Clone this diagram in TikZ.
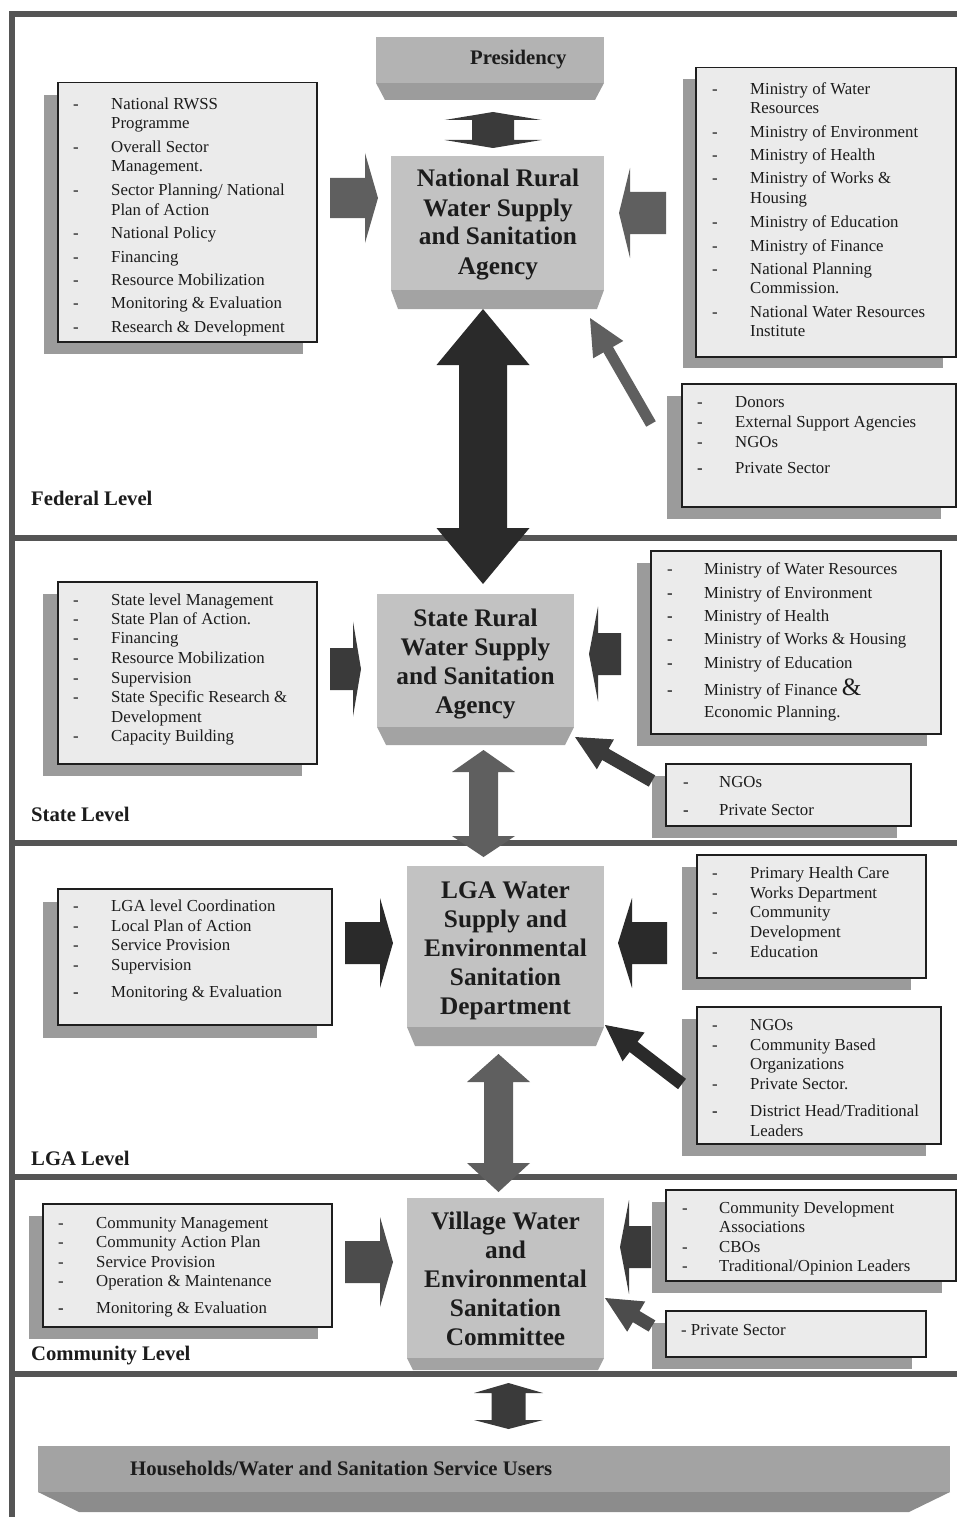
\documentclass[tikz,border=0pt]{standalone}
\usepackage{fontspec}
\setmainfont{Liberation Serif}
\usetikzlibrary{calc}
\definecolor{framec}{HTML}{555555}
\definecolor{face}{HTML}{C2C2C2}
\definecolor{facebot}{HTML}{A3A3A3}
\definecolor{presface}{HTML}{B3B3B3}
\definecolor{presbot}{HTML}{9C9C9C}
\definecolor{hhface}{HTML}{A3A3A3}
\definecolor{hhbot}{HTML}{8C8C8C}
\definecolor{boxfill}{HTML}{EBEBEB}
\definecolor{boxline}{HTML}{1E1E1E}
\definecolor{shadowc}{HTML}{9B9B9B}
\definecolor{txt}{HTML}{1C1C1C}
\definecolor{arrMed}{HTML}{5F5F5F}
\definecolor{arrMid}{HTML}{4C4C4C}
\definecolor{arrDark}{HTML}{3A3A3A}
\definecolor{arrVDark}{HTML}{2A2A2A}

% horizontal block arrow: tail x, head-base x, tip x, centre y, shaft half, head half, colour
\newcommand\hblock[7]{\fill[#7] ({#1},{#4-#5}) -- ({#2},{#4-#5}) -- ({#2},{#4-#6}) -- ({#3},{#4}) -- ({#2},{#4+#6}) -- ({#2},{#4+#5}) -- ({#1},{#4+#5}) -- cycle;}
% vertical double arrow: cx, top tip, top base, bottom base, bottom tip, shaft half, head half, colour
\newcommand\vdouble[8]{\fill[#8] ({#1},{#2}) -- ({#1+#7},{#3}) -- ({#1+#6},{#3}) -- ({#1+#6},{#4}) -- ({#1+#7},{#4}) -- ({#1},{#5}) -- ({#1-#7},{#4}) -- ({#1-#6},{#4}) -- ({#1-#6},{#3}) -- ({#1-#7},{#3}) -- cycle;}
% diagonal arrow: tail coord, tip coord, head length, head half, shaft half, colour
\newcommand\darrow[6]{\coordinate (da-b) at ($(#2)!#3pt!(#1)$);
\fill[#6] (#2) -- ($(da-b)!#4pt!90:(#2)$) -- ($(da-b)!#5pt!90:(#2)$) -- ($(#1)!#5pt!90:(#2)$) -- ($(#1)!#5pt!-90:(#2)$) -- ($(da-b)!#5pt!-90:(#2)$) -- ($(da-b)!#4pt!-90:(#2)$) -- cycle;}
% agency box: name, x0, y0, x1, yb, yt, inset, face, bottom colour
\newcommand\agency[9]{\fill[#9] ({#2},{#5}) -- ({#4},{#5}) -- ({#4-#7},{#6}) -- ({#2+#7},{#6}) -- cycle;
\node[fill=#8, inner sep=0pt, minimum width={(#4-#2)*1pt}, minimum height={(#5-#3)*1pt}, anchor=north west] (#1) at (#2,#3) {};}
% list box: name, x0, y0, x1, y1, shadow dx, shadow dy
\newcommand\lbox[7]{\fill[shadowc] ({#2+#6},{#3+#7}) rectangle ({#4+#6},{#5+#7});
\node[listbox, minimum width={(#4-#2)*1pt}, minimum height={(#5-#3)*1pt}, anchor=north west] (#1) at (#2,#3) {};}
% list lines: prefix, dash x, text x, {baseline/dash/text,...}
\newcommand\items[4]{\foreach \b/\d/\t [count=\i] in {#4} {
 \node[itemtxt, anchor=base west] (#1-\i) at (#3,\b) {\t};
 \ifnum\d=1 \node[itemtxt, anchor=base west] (#1-d\i) at (#2,\b) {-};\fi
 \ifnum\d=2 \node[itemtxt, anchor=base west] (#1-d\i) at (#2,\b) {\textbf{-}};\fi
}}

\begin{document}
\begin{tikzpicture}[x=1pt,y=-1pt,
 itemtxt/.style={inner sep=0pt, font=\fontsize{16.8}{19.5}\selectfont, text=txt},
 lvl/.style={inner sep=0pt, font=\fontsize{20.7}{24}\selectfont\bfseries, text=txt},
 agtxt/.style={inner sep=0pt, font=\fontsize{25.3}{29}\selectfont\bfseries, text=txt},
 listbox/.style={draw=boxline, line width=1.5pt, fill=boxfill, inner sep=0pt},
 sep/.style={draw=framec, line width=6pt}]
\useasboundingbox (0,0) rectangle (957,1517);

% frame and level separators
\draw[sep] (957,14) -- (12,14) -- (12,1517);
\draw[sep] (12,537.5) -- (957,537.5);
\draw[sep] (12,843) -- (957,843);
\draw[sep] (12,1176.5) -- (957,1176.5);
\draw[sep] (12,1373.5) -- (957,1373.5);

% ================= Federal level
\agency{pres}{376}{37}{604}{83}{100}{9}{presface}{presbot}
\node[lvl, anchor=base west] (prest) at (470,65) {Presidency};
\vdouble{493}{112}{120}{140}{148}{21}{48.5}{arrDark}

\agency{nrwssa}{391}{156}{604}{290}{309}{7}{face}{facebot}
\node[agtxt, anchor=base] (nrwssat) at (498,187) {\begin{tabular}[t]{@{}c@{}}National Rural\\Water Supply\\and Sanitation\\Agency\end{tabular}};

\lbox{fedL}{57}{82}{316}{341}{-13}{13}
\items{fedL}{73}{111}{110/1/{National RWSS}, 129/0/{Programme}, 153/1/{Overall Sector}, 172/0/{Management.}, 196/1/{Sector Planning/ National}, 215/0/{Plan of Action}, 238/1/{National Policy}, 262/1/{Financing}, 285/1/{Resource Mobilization}, 308/1/{Monitoring \& Evaluation}, 332/1/{Research \& Development}}

\lbox{fedR}{695}{67}{955}{356}{-12}{12}
\items{fedR}{712}{750}{95/1/{Ministry of Water}, 114/0/{Resources}, 138/1/{Ministry of Environment}, 161/1/{Ministry of Health}, 184/1/{Ministry of Works \&}, 204/0/{Housing}, 227/1/{Ministry of Education}, 251/1/{Ministry of Finance}, 274/1/{National Planning}, 293/0/{Commission.}, 317/1/{National Water Resources}, 336/0/{Institute}}

\lbox{donors}{681}{383}{955}{506}{-14}{13}
\items{donors}{697}{735}{407/1/{Donors}, 427/1/{External Support Agencies}, 447/1/{NGOs}, 473/2/{Private Sector}}

\hblock{330}{365}{378}{198}{20}{45}{arrMed}
\hblock{666}{630}{619}{213}{21}{45}{arrMed}
\coordinate (fedTail) at (651,424);
\coordinate (fedTip) at (590,318);
\darrow{fedTail}{fedTip}{36.5}{17.4}{5.5}{arrMed}

\node[lvl, anchor=base west] (fedlvl) at (31,505) {Federal Level};

% ================= State level
\agency{srwssa}{377}{594}{574}{727}{745}{9}{face}{facebot}
\node[agtxt, anchor=base] (srwssat) at (475.5,626) {\begin{tabular}[t]{@{}c@{}}State Rural\\Water Supply\\and Sanitation\\Agency\end{tabular}};

\lbox{stL}{57}{581}{316}{763}{-14}{13}
\items{stL}{73}{111}{605/1/{State level Management}, 624/1/{State Plan of Action.}, 643/1/{Financing}, 663/1/{Resource Mobilization}, 683/1/{Supervision}, 702/1/{State Specific Research \&}, 722/0/{Development}, 741/1/{Capacity Building}}

\lbox{stR}{650}{550}{940}{733}{-13}{13}
\items{stR}{667}{704}{574/1/{Ministry of Water Resources}, 598/2/{Ministry of Environment}, 621/2/{Ministry of Health}, 644/2/{Ministry of Works \& Housing}, 668/2/{Ministry of Education}, 695/2/{Ministry of Finance {\fontsize{25}{25}\selectfont\&}}, 717/0/{Economic Planning.}}

\lbox{stN}{665}{763}{910}{825}{-13}{13}
\items{stN}{683}{719}{787/1/{NGOs}, 815/2/{Private Sector}}

\hblock{330}{353}{361}{669}{21}{47.5}{arrDark}
\hblock{621}{598}{589}{654}{21}{47.5}{arrDark}
\coordinate (stTail) at (652,781);
\coordinate (stTip) at (575,737);
\darrow{stTail}{stTip}{35}{17.2}{6.5}{arrDark}

\node[lvl, anchor=base west] (stlvl) at (31,821) {State Level};

% ================= LGA level
\agency{lga}{407}{866}{604}{1027}{1046}{8}{face}{facebot}
\node[agtxt, anchor=base] (lgat) at (505.5,898) {\begin{tabular}[t]{@{}c@{}}LGA Water\\Supply and\\Environmental\\Sanitation\\Department\end{tabular}};

\lbox{lgL}{57}{888}{331}{1024}{-14}{14}
\items{lgL}{73}{111}{911/1/{LGA level Coordination}, 931/1/{Local Plan of Action}, 950/1/{Service Provision}, 970/1/{Supervision}, 997/2/{Monitoring \& Evaluation}}

\lbox{lgR1}{696}{854}{925}{977}{-14}{13}
\items{lgR1}{712}{750}{878/1/{Primary Health Care}, 898/1/{Works Department}, 917/1/{Community}, 937/0/{Development}, 957/1/{Education}}

\lbox{lgR2}{696}{1006}{940}{1143}{-14}{13}
\items{lgR2}{712}{750}{1030/1/{NGOs}, 1050/1/{Community Based}, 1069/0/{Organizations}, 1089/1/{Private Sector.}, 1116/2/{District Head/Traditional}, 1136/0/{Leaders}}

\hblock{345}{380}{393}{943}{21}{45}{arrVDark}
\hblock{667}{632}{618}{943}{21}{45}{arrVDark}
\coordinate (lgTail) at (682,1084);
\coordinate (lgTip) at (605,1025);
\darrow{lgTail}{lgTip}{36}{18.1}{6.5}{arrVDark}

\node[lvl, anchor=base west] (lglvl) at (31,1165) {LGA Level};

% inter-level double arrows
\vdouble{483}{309}{365}{528}{584}{24}{46.5}{arrVDark}
\vdouble{483.5}{750}{772}{836}{857}{14.5}{31.5}{arrMed}
\vdouble{498.5}{1054}{1082}{1163}{1192}{14.5}{31.5}{arrMed}

% ================= Community level
\agency{vwesc}{407}{1198}{604}{1358}{1370}{6}{face}{facebot}
\node[agtxt, anchor=base] (vwesct) at (505.5,1229) {\begin{tabular}[t]{@{}c@{}}Village Water\\and\\Environmental\\Sanitation\\Committee\end{tabular}};

\lbox{cmL}{42}{1203}{331}{1326}{-13}{13}
\items{cmL}{58}{96}{1228/1/{Community Management}, 1247/1/{Community Action Plan}, 1267/1/{Service Provision}, 1286/1/{Operation \& Maintenance}, 1313/2/{Monitoring \& Evaluation}}

\lbox{cmR1}{665}{1189}{955}{1280}{-13}{13}
\items{cmR1}{682}{719}{1213/1/{Community Development}, 1232/0/{Associations}, 1252/1/{CBOs}, 1271/1/{Traditional/Opinion Leaders}}

\lbox{cmR2}{665}{1310}{925}{1356}{-13}{13}
\node[itemtxt, anchor=base west] (cmR2t) at (681,1335) {- Private Sector};

\hblock{345}{380}{393}{1262}{21}{45}{arrMid}
\hblock{651}{629}{620}{1247}{21}{47}{arrDark}
\coordinate (cmTail) at (652,1326);
\coordinate (cmTip) at (605,1298);
\darrow{cmTail}{cmTip}{36.3}{17.6}{6.5}{arrMid}

\node[lvl, anchor=base west] (cmlvl) at (31,1360) {Community Level};

% ================= Households
\vdouble{508.5}{1383}{1393}{1420}{1429}{17}{34.5}{arrDark}
\agency{hh}{38}{1446}{950}{1492}{1512}{41}{hhface}{hhbot}
\node[lvl, anchor=base west] (hht) at (130,1475) {Households/Water and Sanitation Service Users};
\end{tikzpicture}
\end{document}
